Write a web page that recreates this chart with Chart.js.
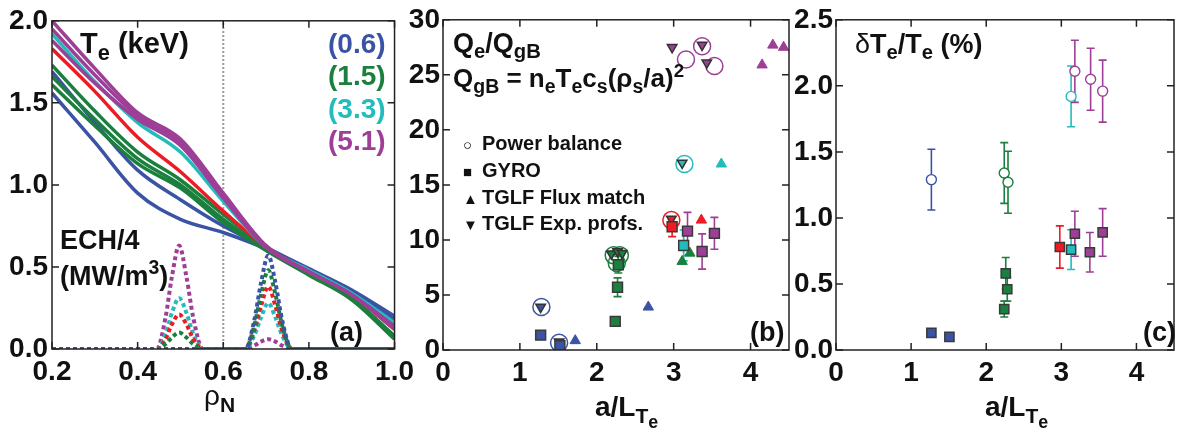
<!DOCTYPE html>
<html>
<head>
<meta charset="utf-8">
<script src="https://cdn.jsdelivr.net/npm/chart.js@4.4.0/dist/chart.umd.min.js"></script>
<style>
  body { margin: 0; background: #fff; width: 1182px; height: 430px; overflow: hidden; position: relative;
         font-family: 'Liberation Sans', Arial, sans-serif; }
  canvas { position: absolute; top: 0; }
  .t { position: absolute; font-weight: bold; line-height: 1; white-space: nowrap; color: #111; }
  .t sub { font-size: 0.75em; vertical-align: -0.32em; line-height: 0; }
  .t sub sub { font-size: 0.85em; vertical-align: -0.3em; }
  .t sup { font-size: 0.72em; vertical-align: 0.55em; line-height: 0; }
  .n { font-weight: normal; }
  .mk { font-size: 15px; display: inline-block; width: 19px; }
</style>
</head>
<body>
<canvas id="chartA" width="420" height="430" style="left:0px"></canvas>
<canvas id="chartB" width="400" height="430" style="left:400px"></canvas>
<canvas id="chartC" width="392" height="430" style="left:790px"></canvas>

<!-- panel (a) labels -->
<div class="t" style="left:80px;top:29px;font-size:29px">T<sub>e</sub> (keV)</div>
<div class="t" style="left:328px;top:30px;font-size:28px;color:#3a53a4">(0.6)</div>
<div class="t" style="left:328px;top:62px;font-size:28px;color:#1b7f3e">(1.5)</div>
<div class="t" style="left:328px;top:95px;font-size:28px;color:#22bcbc">(3.3)</div>
<div class="t" style="left:328px;top:127px;font-size:28px;color:#9e3f97">(5.1)</div>
<div class="t" style="left:60px;top:227px;font-size:27px">ECH/4</div>
<div class="t" style="left:60px;top:263px;font-size:27px">(MW/m<sup>3</sup>)</div>
<div class="t" style="left:330px;top:319px;font-size:27px">(a)</div>
<div class="t" style="left:204px;top:382px;font-size:28px"><span class="n">ρ</span><sub>N</sub></div>

<!-- panel (b) labels -->
<div class="t" style="left:453px;top:30px;font-size:27px">Q<sub>e</sub>/Q<sub>gB</sub></div>
<div class="t" style="left:453px;top:65px;font-size:26px">Q<sub>gB</sub> = n<sub>e</sub>T<sub>e</sub>c<sub>s</sub>(ρ<sub>s</sub>/a)<sup>2</sup></div>
<div class="t" style="left:463px;top:133px;font-size:20px"><span class="mk">○</span>Power balance</div>
<div class="t" style="left:463px;top:160px;font-size:20px"><span class="mk">■</span>GYRO</div>
<div class="t" style="left:463px;top:187px;font-size:20px"><span class="mk">▲</span>TGLF Flux match</div>
<div class="t" style="left:463px;top:213px;font-size:20px"><span class="mk">▼</span>TGLF Exp. profs.</div>
<div class="t" style="left:750px;top:319px;font-size:27px">(b)</div>
<div class="t" style="left:595px;top:393px;font-size:28px">a/L<sub>T<sub>e</sub></sub></div>

<!-- panel (c) labels -->
<div class="t" style="left:855px;top:31px;font-size:27px"><span class="n">δ</span>T<sub>e</sub>/T<sub>e</sub> (%)</div>
<div class="t" style="left:1143px;top:319px;font-size:27px">(c)</div>
<div class="t" style="left:985px;top:393px;font-size:28px">a/L<sub>T<sub>e</sub></sub></div>

<script>
// colours of the five shot groups
const COLORS = { b: "#3a53a4", g: "#1b7f3e", r: "#ed1c24", c: "#22bcbc", p: "#9e3f97" };

// ---- panel (a): Te profiles vs rho
const RHO = [0.2, 0.3, 0.4, 0.5, 0.6, 0.7, 0.8, 0.9, 1.0];
const TE_P1 = [2.00, 1.71, 1.44, 1.28, 0.95, 0.63, 0.47, 0.33, 0.14];
const TE_P2 = [1.95, 1.67, 1.42, 1.26, 0.93, 0.62, 0.47, 0.33, 0.13];
const TE_P3 = [1.88, 1.62, 1.40, 1.24, 0.92, 0.62, 0.47, 0.33, 0.12];
const TE_C = [1.92, 1.63, 1.38, 1.20, 0.90, 0.62, 0.48, 0.34, 0.16];
const TE_R = [1.83, 1.57, 1.29, 1.08, 0.84, 0.62, 0.47, 0.33, 0.12];
const TE_G1 = [1.73, 1.45, 1.20, 1.03, 0.82, 0.62, 0.46, 0.31, 0.08];
const TE_G2 = [1.66, 1.40, 1.16, 1.00, 0.79, 0.61, 0.46, 0.31, 0.07];
const TE_G3 = [1.61, 1.36, 1.13, 0.98, 0.77, 0.60, 0.45, 0.30, 0.06];
const TE_B1 = [1.69, 1.38, 1.09, 0.91, 0.75, 0.62, 0.49, 0.36, 0.20];
const TE_B2 = [1.56, 1.26, 0.95, 0.79, 0.71, 0.61, 0.48, 0.35, 0.18];

// ECH deposition profiles (divided by 4)
const ECH_RHO = [0.2, 0.445, 0.465, 0.48, 0.497, 0.514, 0.53, 0.552,
                 0.652, 0.672, 0.688, 0.705, 0.722, 0.738, 0.76, 1.0];
const ECH_P = [0, 0, 0.19, 0.44, 0.63, 0.44, 0.19, 0, 0, 0.02, 0.045, 0.06, 0.045, 0.02, 0, 0];
const ECH_C = [0, 0, 0.09, 0.22, 0.31, 0.22, 0.09, 0, 0, 0.08, 0.19, 0.28, 0.19, 0.08, 0, 0];
const ECH_R = [0, 0, 0.06, 0.15, 0.21, 0.15, 0.06, 0, 0, 0.11, 0.26, 0.38, 0.26, 0.11, 0, 0];
const ECH_G = [0, 0, 0.03, 0.07, 0.10, 0.07, 0.03, 0, 0, 0.14, 0.33, 0.48, 0.33, 0.14, 0, 0];
const ECH_B = [0, 0, 0, 0, 0, 0, 0, 0, 0, 0.17, 0.40, 0.57, 0.40, 0.17, 0, 0];

const RHO_MARK = 0.6;

// tick labels
const A_XTICKS = [0.2, 0.4, 0.6, 0.8, 1.0];
const A_YTICKS = [0, 0.5, 1.0, 1.5, 2.0];
const B_XTICKS = [0, 1, 2, 3, 4];
const B_YTICKS = [0, 5, 10, 15, 20, 25, 30];
const C_XTICKS = [0, 1, 2, 3, 4];
const C_YTICKS = [0, 0.5, 1.0, 1.5, 2.0, 2.5];

// ---- panel (b): Qe/QgB vs a/LTe
const PB_X = [1.28, 1.51, 2.22, 2.30, 2.26, 2.97, 3.14, 3.16, 3.37, 3.53];
const PB_Q = [3.9, 0.65, 8.6, 8.6, 7.9, 11.8, 16.9, 26.4, 27.6, 25.8];
const PB_COL = ["b", "b", "g", "g", "g", "r", "c", "p", "p", "p"];

const GYRO_X = [1.27, 1.52, 2.24, 2.27, 2.28, 2.98, 3.13, 3.18, 3.37, 3.53];
const GYRO_Q = [1.35, 0.4, 2.6, 5.7, 7.75, 11.2, 9.5, 10.8, 8.95, 10.6];
const GYRO_Q_ERR = [0, 0, 0.3, 0.85, 0.75, 0.9, 1.4, 1.7, 1.6, 1.45];
const GYRO_COL = ["b", "b", "g", "g", "g", "r", "c", "p", "p", "p"];

const FM_X = [1.72, 2.67, 3.11, 3.21, 3.36, 3.62, 4.15, 4.29, 4.43];
const FM_Q = [0.85, 3.9, 8.05, 8.8, 11.8, 16.9, 25.9, 27.7, 27.5];
const FM_COL = ["b", "b", "g", "g", "r", "c", "p", "p", "p"];

const EP_X = [1.27, 1.51, 2.19, 2.27, 2.33, 2.97, 3.11, 2.98, 3.37, 3.43];
const EP_Q = [3.9, 0.75, 8.75, 8.95, 8.8, 11.9, 17.0, 27.5, 27.7, 26.1];
const EP_COL = ["b", "b", "g", "g", "g", "r", "c", "p", "p", "p"];

// ---- panel (c): dTe/Te vs a/LTe
const DT_EXP_X = [1.27, 2.24, 2.29, 3.13, 3.18, 3.39, 3.55];
const DT_EXP = [1.29, 1.34, 1.27, 1.92, 2.11, 2.05, 1.96];
const DT_EXP_ERR = [0.23, 0.23, 0.235, 0.23, 0.235, 0.235, 0.235];
const DT_EXP_COL = ["b", "g", "g", "c", "p", "p", "p"];

const DT_GYRO_X = [1.27, 1.51, 2.24, 2.26, 2.28, 2.98, 3.13, 3.18, 3.38, 3.55];
const DT_GYRO = [0.13, 0.10, 0.31, 0.58, 0.46, 0.78, 0.76, 0.88, 0.74, 0.89];
const DT_GYRO_ERR = [0, 0, 0.06, 0.12, 0.09, 0.16, 0.15, 0.17, 0.15, 0.18];
const DT_GYRO_COL = ["b", "b", "g", "g", "g", "r", "c", "p", "p", "p"];

const FONT = "'Liberation Sans', Arial, sans-serif";

function pts(xs, ys) {
  return xs.map((x, i) => ({ x: x, y: ys[i] }));
}
function cols(keys) {
  return keys.map((k) => COLORS[k]);
}

// box with inward ticks on all four sides
const framePlugin = {
  id: "frame",
  afterDatasetsDraw(chart) {
    const ctx = chart.ctx;
    const a = chart.chartArea;
    const xs = chart.scales.x;
    const ys = chart.scales.y;
    ctx.save();
    ctx.strokeStyle = "#222";
    ctx.lineWidth = 1.5;
    ctx.strokeRect(a.left, a.top, a.right - a.left, a.bottom - a.top);
    ctx.beginPath();
    xs.ticks.forEach((t) => {
      const px = xs.getPixelForValue(t.value);
      ctx.moveTo(px, a.bottom);
      ctx.lineTo(px, a.bottom - 7);
      ctx.moveTo(px, a.top);
      ctx.lineTo(px, a.top + 7);
    });
    ys.ticks.forEach((t) => {
      const py = ys.getPixelForValue(t.value);
      ctx.moveTo(a.left, py);
      ctx.lineTo(a.left + 7, py);
      ctx.moveTo(a.right, py);
      ctx.lineTo(a.right - 7, py);
    });
    ctx.stroke();
    ctx.restore();
  },
};

// vertical error bars, from dataset.err and dataset.errColor
const errPlugin = {
  id: "err",
  beforeDatasetsDraw(chart) {
    const ctx = chart.ctx;
    const xs = chart.scales.x;
    const ys = chart.scales.y;
    ctx.save();
    ctx.lineWidth = 1.6;
    chart.data.datasets.forEach((ds) => {
      if (!ds.err) return;
      ds.data.forEach((p, j) => {
        const e = ds.err[j];
        if (!e) return;
        const px = xs.getPixelForValue(p.x);
        const y1 = ys.getPixelForValue(p.y - e);
        const y2 = ys.getPixelForValue(p.y + e);
        ctx.strokeStyle = ds.errColor[j];
        ctx.beginPath();
        ctx.moveTo(px, y1);
        ctx.lineTo(px, y2);
        ctx.moveTo(px - 4, y1);
        ctx.lineTo(px + 4, y1);
        ctx.moveTo(px - 4, y2);
        ctx.lineTo(px + 4, y2);
        ctx.stroke();
      });
    });
    ctx.restore();
  },
};

function makeScales(o) {
  const tickFont = { family: FONT, size: 28, weight: "bold" };
  return {
    x: {
      type: "linear",
      min: o.xmin,
      max: o.xmax,
      afterBuildTicks: (s) => { s.ticks = o.xticks.map((v) => ({ value: v })); },
      afterFit: (s) => { s.height = o.xh; },
      grid: { display: false, drawTicks: false },
      border: { display: false },
      ticks: {
        padding: 6,
        color: "#111",
        font: tickFont,
        maxRotation: 0,
        autoSkip: false,
        callback: (v) => v.toFixed(o.xdec),
      },
    },
    y: {
      type: "linear",
      min: o.ymin,
      max: o.ymax,
      afterBuildTicks: (s) => { s.ticks = o.yticks.map((v) => ({ value: v })); },
      afterFit: (s) => { s.width = o.yw; },
      grid: { display: false, drawTicks: false },
      border: { display: false },
      ticks: {
        padding: o.ypad,
        color: "#111",
        font: tickFont,
        autoSkip: false,
        callback: (v) => v.toFixed(o.ydec),
      },
    },
  };
}

const baseOptions = {
  responsive: false,
  animation: false,
  plugins: { legend: { display: false }, tooltip: { enabled: false } },
};

// ---------------- panel (a)
const teLines = [
  ["p", TE_P1], ["p", TE_P2], ["p", TE_P3], ["c", TE_C], ["r", TE_R],
  ["g", TE_G1], ["g", TE_G2], ["g", TE_G3], ["b", TE_B1], ["b", TE_B2],
].map(([k, vals]) => ({
  data: pts(RHO, vals),
  showLine: true,
  borderColor: COLORS[k],
  borderWidth: 3.5,
  pointRadius: 0,
  cubicInterpolationMode: "monotone",
}));

const echLines = [["b", ECH_B], ["g", ECH_G], ["r", ECH_R], ["c", ECH_C], ["p", ECH_P]].map(
  ([k, vals]) => ({
    data: pts(ECH_RHO, vals),
    showLine: true,
    borderColor: COLORS[k],
    borderWidth: 4,
    borderDash: [4, 3],
    pointRadius: 0,
    cubicInterpolationMode: "monotone",
  })
);

const markLine = {
  data: [{ x: RHO_MARK, y: 0 }, { x: RHO_MARK, y: 2 }],
  showLine: true,
  borderColor: "#9a9a9a",
  borderWidth: 2,
  borderDash: [2, 2],
  pointRadius: 0,
};

new Chart(document.getElementById("chartA"), {
  type: "scatter",
  data: { datasets: [...teLines, ...echLines, markLine] },
  options: {
    ...baseOptions,
    layout: { padding: { left: 0, top: 15, right: 24, bottom: 0 } },
    scales: makeScales({
      xmin: 0.2, xmax: 1.0, xticks: A_XTICKS, xdec: 1, xh: 81,
      ymin: 0, ymax: 2.0, yticks: A_YTICKS, ydec: 1, yw: 52, ypad: 4,
    }),
  },
  plugins: [framePlugin],
});

// ---------------- panel (b)
new Chart(document.getElementById("chartB"), {
  type: "scatter",
  data: {
    datasets: [
      {
        data: pts(GYRO_X, GYRO_Q),
        err: GYRO_Q_ERR,
        errColor: cols(GYRO_COL),
        pointStyle: "rect",
        pointRadius: 7,
        pointBackgroundColor: cols(GYRO_COL),
        pointBorderColor: "#3a3a3a",
        pointBorderWidth: 1.5,
      },
      {
        data: pts(EP_X, EP_Q),
        pointStyle: "triangle",
        rotation: 180,
        pointRadius: 5.5,
        pointBackgroundColor: cols(EP_COL),
        pointBorderColor: "#333",
        pointBorderWidth: 1.5,
      },
      {
        data: pts(FM_X, FM_Q),
        pointStyle: "triangle",
        pointRadius: 6,
        pointBackgroundColor: cols(FM_COL),
        pointBorderColor: cols(FM_COL),
        pointBorderWidth: 1,
      },
      {
        data: pts(PB_X, PB_Q),
        pointStyle: "circle",
        pointRadius: 8.5,
        pointBackgroundColor: "rgba(0,0,0,0)",
        pointBorderColor: cols(PB_COL),
        pointBorderWidth: 1.5,
      },
    ],
  },
  options: {
    ...baseOptions,
    layout: { padding: { left: 0, top: 15, right: 11, bottom: 0 } },
    scales: makeScales({
      xmin: 0, xmax: 4.5, xticks: B_XTICKS, xdec: 0, xh: 80,
      ymin: 0, ymax: 30, yticks: B_YTICKS, ydec: 0, yw: 43, ypad: 3,
    }),
  },
  plugins: [errPlugin, framePlugin],
});

// ---------------- panel (c)
new Chart(document.getElementById("chartC"), {
  type: "scatter",
  data: {
    datasets: [
      {
        data: pts(DT_GYRO_X, DT_GYRO),
        err: DT_GYRO_ERR,
        errColor: cols(DT_GYRO_COL),
        pointStyle: "rect",
        pointRadius: 6.5,
        pointBackgroundColor: cols(DT_GYRO_COL),
        pointBorderColor: "#3a3a3a",
        pointBorderWidth: 1.5,
      },
      {
        data: pts(DT_EXP_X, DT_EXP),
        err: DT_EXP_ERR,
        errColor: cols(DT_EXP_COL),
        pointStyle: "circle",
        pointRadius: 5,
        pointBackgroundColor: "#fff",
        pointBorderColor: cols(DT_EXP_COL),
        pointBorderWidth: 1.4,
      },
    ],
  },
  options: {
    ...baseOptions,
    layout: { padding: { left: 0, top: 15, right: 3, bottom: 0 } },
    scales: makeScales({
      xmin: 0, xmax: 4.5, xticks: C_XTICKS, xdec: 0, xh: 80,
      ymin: 0, ymax: 2.5, yticks: C_YTICKS, ydec: 1, yw: 46, ypad: 3,
    }),
  },
  plugins: [errPlugin, framePlugin],
});
</script>
</body>
</html>
